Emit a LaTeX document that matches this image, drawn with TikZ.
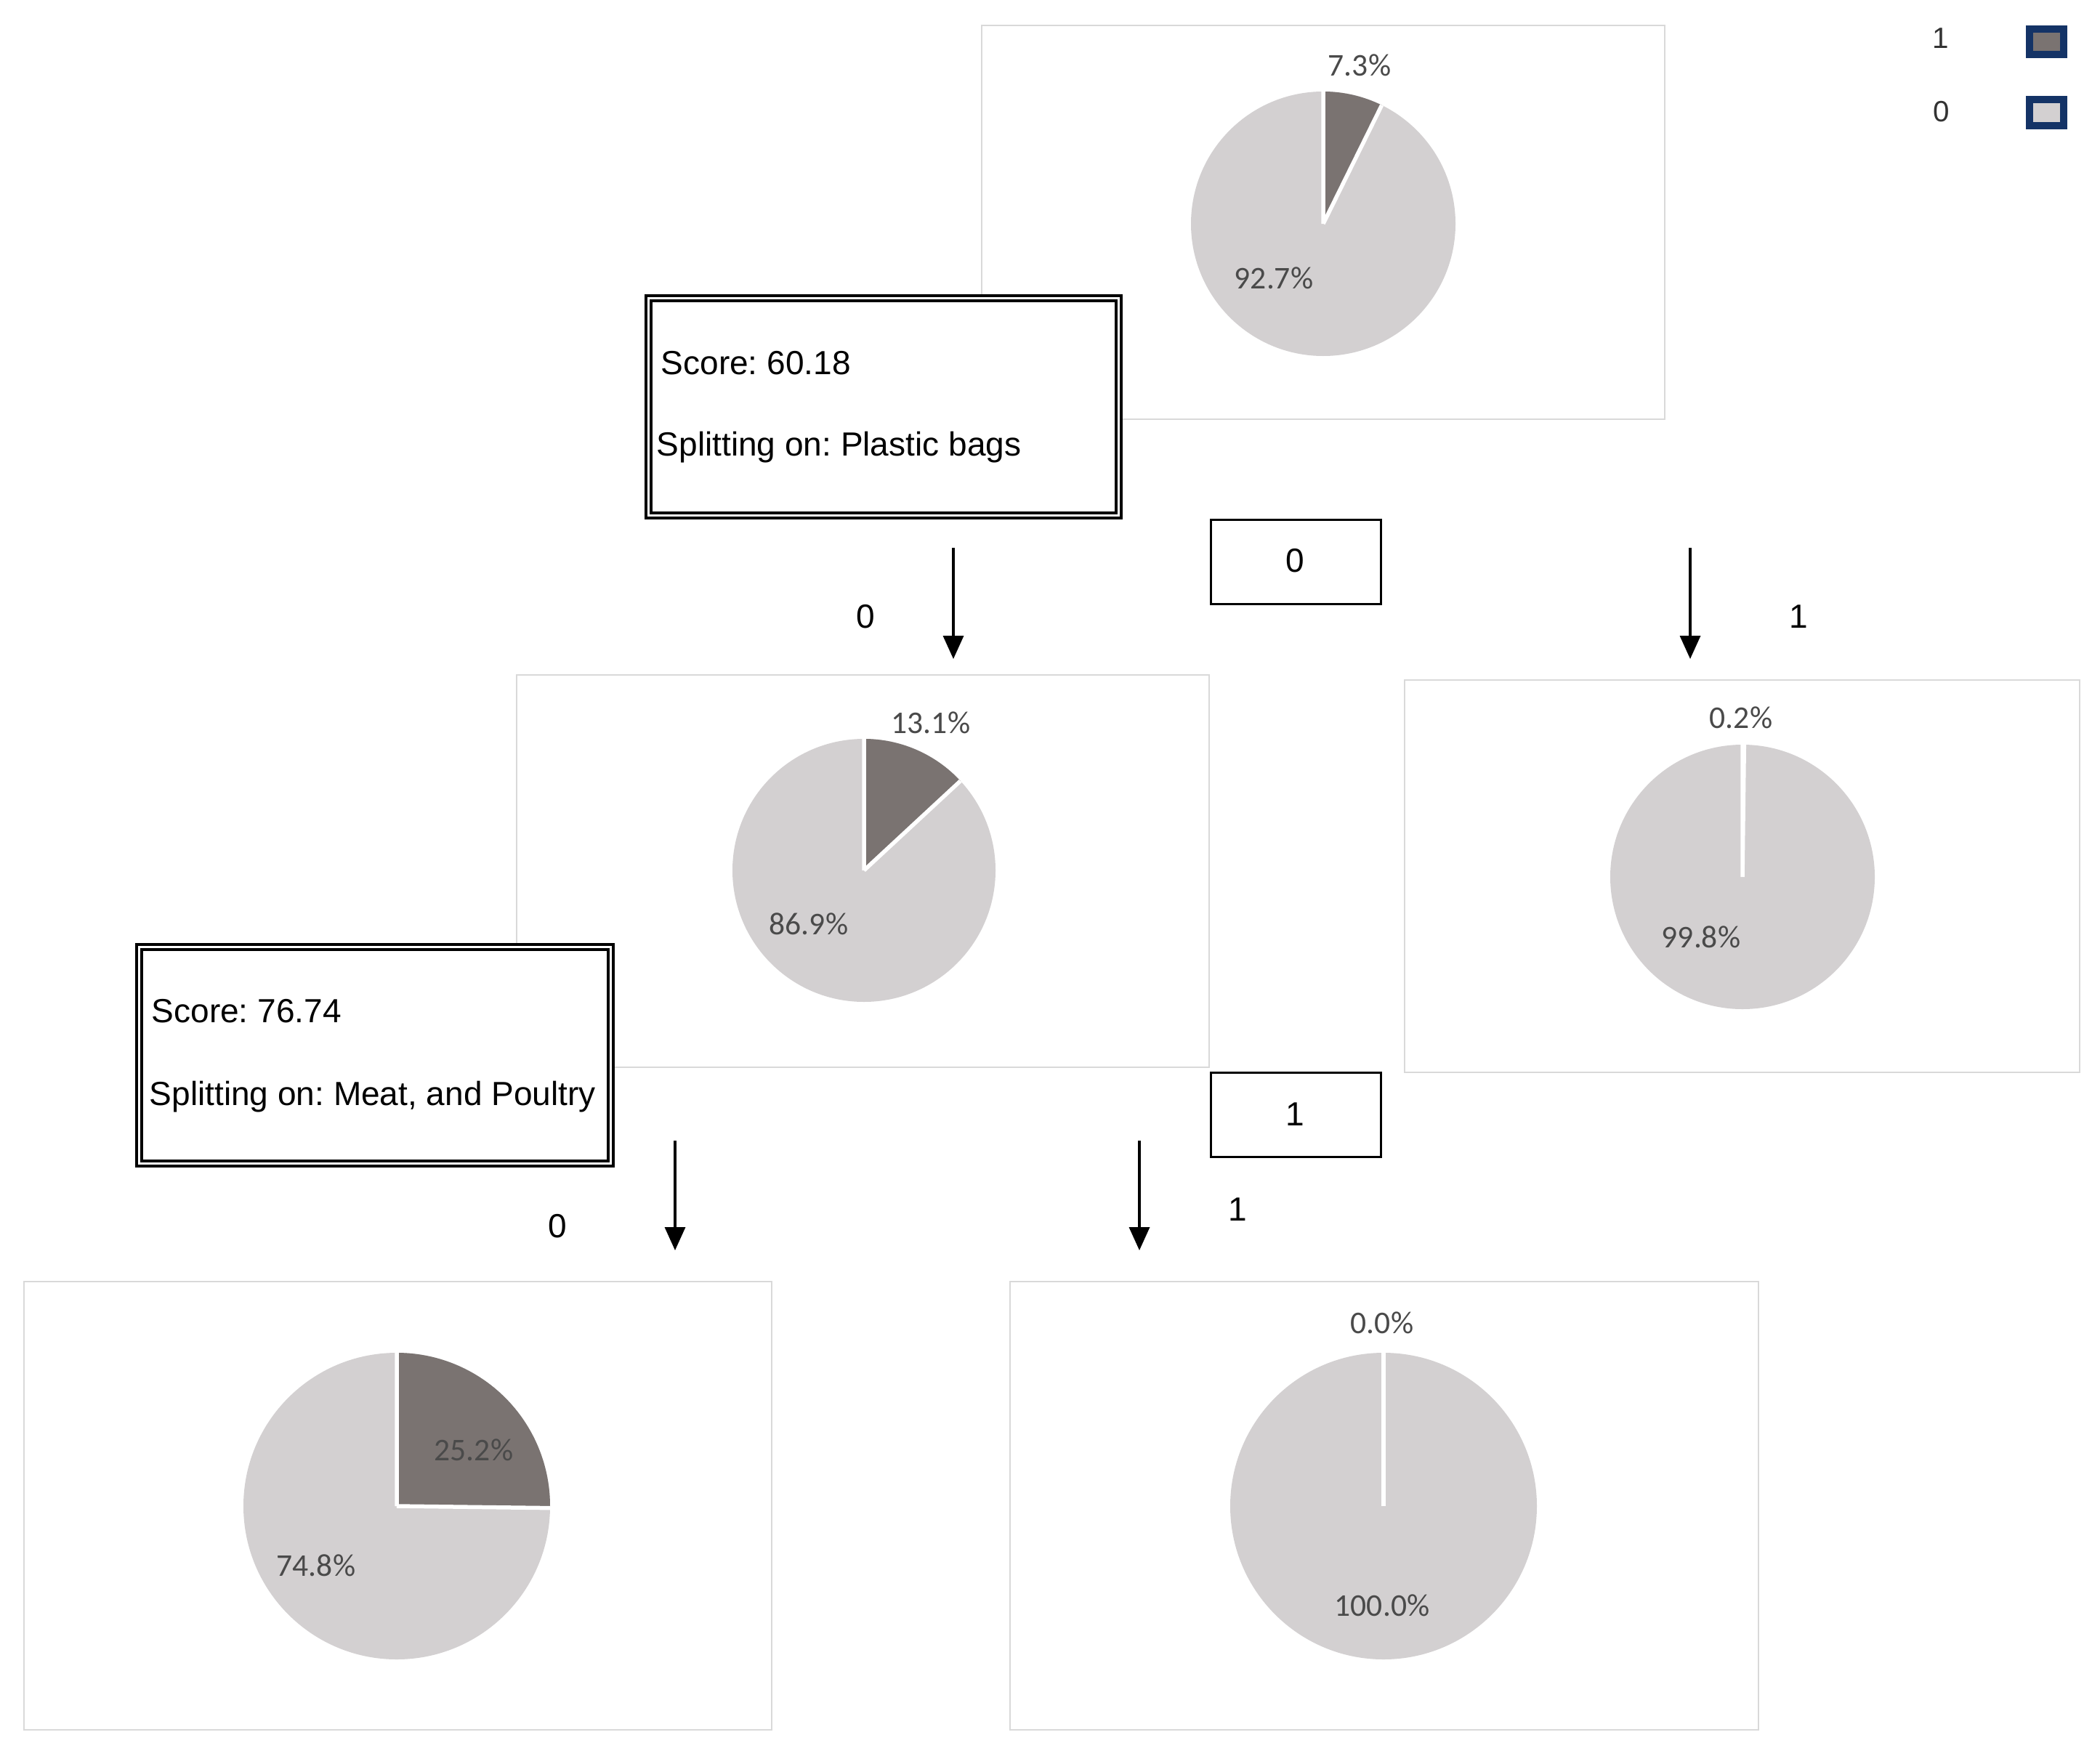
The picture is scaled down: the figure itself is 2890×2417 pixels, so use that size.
\documentclass[tikz,border=0pt]{standalone}
\usepackage{fontspec}
\setmainfont{Liberation Sans}
\newfontfamily\pctfont{Carlito}
\usetikzlibrary{arrows.meta}
\frenchspacing
\definecolor{pielight}{HTML}{D3D0D1}
\definecolor{piedark}{HTML}{7A7371}
\definecolor{framegray}{HTML}{D9D9D9}
\definecolor{pcttext}{HTML}{4A4A4A}
\definecolor{navyline}{HTML}{143366}
\newcommand{\drawpie}[3]{%
  \fill[pielight] (#1) circle[radius=#2];
  \fill[piedark] (#1) -- ++(-90:#2) arc[start angle=-90,end angle=#3,radius=#2] -- cycle;
  \draw[white,line width=0.55mm] (#1) -- ++(-90:#2) (#1) -- ++(#3:#2);}
\begin{document}
\begin{tikzpicture}[x=0.1mm,y=-0.1mm,
  chartframe/.style={draw=framegray,line width=0.25mm,fill=white},
  scorebox/.style={draw=black,fill=white,line width=0.38mm,double=white,double distance=0.38mm},
  branchbox/.style={draw=black,line width=0.3mm,fill=white},
  txt/.style={inner sep=0pt,font=\fontsize{13.1pt}{15pt}\selectfont},
  pct/.style={inner sep=0pt,text=pcttext,font=\pctfont\fontsize{12.4pt}{14pt}\selectfont},
  arr/.style={line width=0.35mm,-{Triangle[length=3.2mm,width=2.8mm]}},
  swatch/.style={draw=navyline,line width=1mm}]
\useasboundingbox (0,0) rectangle (2890,2417);
\fill[white] (0,0) rectangle (2890,2417);

% legend
\node[inner sep=0pt,text=black!80,font=\fontsize{11.5pt}{13pt}\selectfont] (leg1) at (2671,53) {1};
\node[inner sep=0pt,text=black!80,font=\fontsize{11.5pt}{13pt}\selectfont] (leg0) at (2672,154) {0};
\draw[swatch,fill=piedark] (2793,40) rectangle (2840,75);
\draw[swatch,fill=pielight] (2793,137) rectangle (2840,173);

% chart frames
\draw[chartframe] (1351,35) rectangle (2291,577);
\draw[chartframe] (711,929) rectangle (1664,1469);
\draw[chartframe] (1933,936) rectangle (2862,1476);
\draw[chartframe] (33,1764) rectangle (1062,2381);
\draw[chartframe] (1390,1764) rectangle (2420,2381);

% pies
\coordinate (p1) at (1821,308);
\coordinate (p2) at (1189,1198);
\coordinate (p3) at (2398,1207);
\coordinate (p4) at (546,2073);
\coordinate (p5) at (1904,2073);
\drawpie{p1}{182}{-63.72}
\drawpie{p2}{181}{-42.84}
\drawpie{p3}{182}{-89.28}
\drawpie{p4}{211}{0.72}
\drawpie{p5}{211}{-90}

\node[pct] (l1a) at (1871,90) {7.3\%};
\node[pct] (l1b) at (1753,383) {92.7\%};
\node[pct] (l2a) at (1281,995) {13.1\%};
\node[pct] (l2b) at (1113,1272) {86.9\%};
\node[pct] (l3a) at (2396,988) {0.2\%};
\node[pct] (l3b) at (2341,1290) {99.8\%};
\node[pct] (l4a) at (652,1996) {25.2\%};
\node[pct] (l4b) at (435,2155) {74.8\%};
\node[pct] (l5a) at (1902,1821) {0.0\%};
\node[pct] (l5b) at (1902,2210) {100.0\%};

% score boxes
\draw[scorebox] (892.5,410.5) rectangle (1539.5,709.5);
\node[txt,anchor=west] (s1a) at (909,500) {Score: 60.18};
\node[txt,anchor=west] (s1b) at (903,616) {Splitting on: Plastic bags};
\draw[scorebox] (191.5,1303.5) rectangle (840.5,1601.5);
\node[txt,anchor=west] (s2a) at (208,1392) {Score: 76.74};
\node[txt,anchor=west] (s2b) at (205,1510) {Splitting on: Meat, and Poultry};

% branch boxes
\draw[branchbox] (1666,715) rectangle (1900,831);
\node[txt] (b0) at (1782,772) {0};
\draw[branchbox] (1666,1476) rectangle (1900,1592);
\node[txt] (b1) at (1782,1534) {1};

% arrows
\coordinate (a1s) at (1312,754); \coordinate (a1e) at (1312,907);
\coordinate (a2s) at (2326,754); \coordinate (a2e) at (2326,907);
\coordinate (a3s) at (929,1570); \coordinate (a3e) at (929,1721);
\coordinate (a4s) at (1568,1570); \coordinate (a4e) at (1568,1721);
\draw[arr] (a1s) -- (a1e);
\draw[arr] (a2s) -- (a2e);
\draw[arr] (a3s) -- (a3e);
\draw[arr] (a4s) -- (a4e);
\node[txt] (e1) at (1191,849) {0};
\node[txt] (e2) at (2475,849) {1};
\node[txt] (e3) at (767,1688) {0};
\node[txt] (e4) at (1703,1665) {1};
\end{tikzpicture}
\end{document}
